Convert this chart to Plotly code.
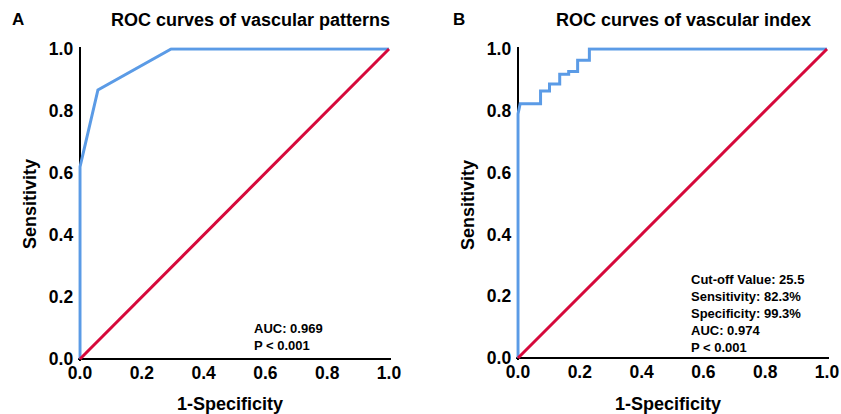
import plotly.graph_objects as go

W, H = 841, 414

# ---- data ----
# Panel A: ROC curve of vascular patterns
fpr_a = [0.0, 0.0, 0.058, 0.295, 1.0]
tpr_a = [0.0, 0.62, 0.868, 1.0, 1.0]
# Panel B: ROC curve of vascular index
fpr_b = [0.0, 0.0, 0.007, 0.073, 0.073, 0.102, 0.102, 0.135, 0.135, 0.164, 0.164,
         0.193, 0.193, 0.231, 0.231, 1.0]
tpr_b = [0.0, 0.79, 0.823, 0.823, 0.864, 0.864, 0.887, 0.887, 0.918, 0.918, 0.927,
         0.927, 0.964, 0.964, 1.0, 1.0]
ref_x = [0.0, 1.0]
ref_y = [0.0, 1.0]
tick_vals = [0.0, 0.2, 0.4, 0.6, 0.8, 1.0]
tick_text = ["0.0", "0.2", "0.4", "0.6", "0.8", "1.0"]

BLUE = "#5b9be6"
RED = "#d6093b"
FONT = "Liberation Sans, Arial, sans-serif"

def px(x):
    return x / W

def py(y):
    return 1 - y / H

pad = 0.006
def dom_x(x0, x1):
    s = (x1 - x0)
    return [px(x0 - pad * s), px(x1 + pad * s)]

def dom_y(y0, y1):  # y0 pixel at value 0 (bottom), y1 pixel at value 1 (top)
    s = (y0 - y1)
    return [py(y0 + pad * s), py(y1 - pad * s)]

fig = go.Figure()
fig.add_trace(go.Scatter(x=fpr_a, y=tpr_a, mode="lines", line=dict(color=BLUE, width=3),
                         xaxis="x", yaxis="y", showlegend=False))
fig.add_trace(go.Scatter(x=ref_x, y=ref_y, mode="lines", line=dict(color=RED, width=3),
                         xaxis="x", yaxis="y", showlegend=False))
fig.add_trace(go.Scatter(x=fpr_b, y=tpr_b, mode="lines", line=dict(color=BLUE, width=3),
                         xaxis="x2", yaxis="y2", showlegend=False))
fig.add_trace(go.Scatter(x=ref_x, y=ref_y, mode="lines", line=dict(color=RED, width=3),
                         xaxis="x2", yaxis="y2", showlegend=False))

axis_common = dict(range=[-pad, 1 + pad], tickvals=tick_vals, ticktext=tick_text,
                   showgrid=False, zeroline=True, zerolinecolor="black", zerolinewidth=2.2,
                   showline=False, ticks="", automargin=False,
                   tickfont=dict(family=FONT, size=17.5, color="black", weight="bold"))

fig.update_layout(
    width=W, height=H,
    margin=dict(l=0, r=0, t=0, b=0, autoexpand=False),
    paper_bgcolor="white", plot_bgcolor="white",
    xaxis=dict(domain=dom_x(80, 389), anchor="y", ticklabelstandoff=0, **axis_common),
    yaxis=dict(domain=dom_y(359, 49), anchor="x", ticklabelstandoff=4, **axis_common),
    xaxis2=dict(domain=dom_x(518, 827), anchor="y2", ticklabelstandoff=0, **axis_common),
    yaxis2=dict(domain=dom_y(358, 49), anchor="x2", ticklabelstandoff=4, **axis_common),
)

def ann(text, x, y, size=16, xanchor="center", yanchor="middle", angle=0, align="center"):
    fig.add_annotation(text=text, x=px(x), y=py(y), xref="paper", yref="paper",
                       xanchor=xanchor, yanchor=yanchor, showarrow=False, textangle=angle,
                       align=align,
                       font=dict(family=FONT, size=size, color="black", weight="bold"))

# panel letters
ann("A", 18, 20, size=17)
ann("B", 459, 20, size=17)
# titles
ann("ROC curves of vascular patterns", 250, 20, size=18)
ann("ROC curves of vascular index", 683, 20, size=18)
# axis titles
ann("1-Specificity", 230, 404, size=18)
ann("1-Specificity", 668, 404, size=18)
ann("Sensitivity", 30, 204, size=18, angle=-90)
ann("Sensitivity", 468, 205, size=18, angle=-90)
# stats
ann("AUC: 0.969<br>P < 0.001", 252, 319, size=13, xanchor="left", yanchor="top", align="left")
ann("Cut-off Value: 25.5<br>Sensitivity: 82.3%<br>Specificity: 99.3%<br>AUC: 0.974<br>P < 0.001",
    689, 270, size=13, xanchor="left", yanchor="top", align="left")

fig.write_html("out.html", config={"displayModeBar": False},
               post_script="document.body.style.margin='0';document.body.style.overflow='hidden';")
